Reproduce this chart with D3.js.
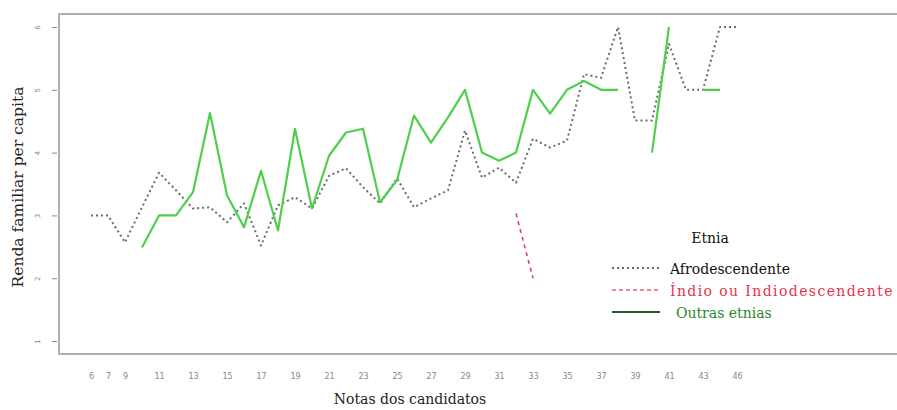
<!DOCTYPE html>
<html><head><meta charset="utf-8">
<script src="https://cdn.jsdelivr.net/npm/d3@7/dist/d3.min.js"></script>
<style>body{margin:0;background:#fff}svg{display:block}</style>
</head><body><svg id="c" width="897" height="410"></svg>
<script>
const categories = ["6","7","9","10","11","12","13","14","15","16","17","18","19","20","21","22","23","24","25","26","27","28","29","30","31","32","33","34","35","36","37","38","39","40","41","42","43","44","46"];
const tickLabels = ["6","7","9","11","13","15","17","19","21","23","25","27","29","31","33","35","37","39","41","43","46"];
const yTicks = [1,2,3,4,5,6];
const afro = [3.0,3.0,2.57,3.13,3.68,3.40,3.11,3.13,2.89,3.19,2.52,3.16,3.29,3.11,3.63,3.75,3.45,3.19,3.59,3.13,3.27,3.40,4.35,3.60,3.76,3.52,4.22,4.08,4.19,5.25,5.19,6.0,4.51,4.51,5.73,5.0,5.0,6.0,6.0];
const indio = [null,null,null,null,null,null,null,null,null,null,null,null,null,null,null,null,null,null,null,null,null,null,null,null,null,3.03,2.0,null,null,null,null,null,null,null,null,null,null,null,null];
const outras = [null,null,null,2.49,3.0,3.0,3.37,4.63,3.32,2.81,3.71,2.76,4.38,3.11,3.95,4.32,4.38,3.21,3.56,4.59,4.16,4.56,5.0,4.0,3.87,4.0,5.0,4.62,5.0,5.14,5.0,5.0,null,4.0,6.0,null,5.0,5.0,null];
const seriesNames = ["Afrodescendente","Índio ou Indiodescendente","Outras etnias"];

const svg = d3.select("#c");
const x = d3.scalePoint().domain(categories).range([91, 737]);
const y = d3.scaleLinear().domain([1,6]).range([341, 27]);
const serif = "'DejaVu Serif', serif";

// frame
svg.append("rect").attr("x",59).attr("y",14).attr("width",900).attr("height",340)
  .attr("fill","none").attr("stroke","#b0b0b0").attr("stroke-width",2);

// y axis
const yAx = svg.append("g").attr("transform","translate(52,0)")
  .call(d3.axisLeft(y).tickValues(yTicks).tickSize(-5).tickPadding(0).tickFormat(d3.format("d")));
yAx.select(".domain").remove();
yAx.selectAll(".tick line").attr("stroke","#888").attr("stroke-width",1);
yAx.selectAll(".tick text").attr("transform","translate(-12,0) rotate(-90)").attr("text-anchor","middle")
  .attr("dy","0").attr("x",0).attr("y",0)
  .attr("fill","#888").style("font-family","'DejaVu Sans', sans-serif").style("font-size","7px");

// x axis
const xAx = svg.append("g").attr("transform","translate(0,373)")
  .call(d3.axisBottom(x).tickValues(tickLabels).tickSize(0).tickPadding(0));
xAx.select(".domain").remove();
xAx.selectAll(".tick text").attr("fill","#888").style("font-family","'DejaVu Sans', sans-serif").style("font-size","8px");

// axis titles
svg.append("text").attr("x",410).attr("y",404).attr("text-anchor","middle")
  .style("font-family",serif).style("font-size","14px").attr("fill","#222").text("Notas dos candidatos");
svg.append("text").attr("transform","translate(23,187) rotate(-90)").attr("text-anchor","middle")
  .style("font-family",serif).style("font-size","15.5px").attr("fill","#222").text("Renda familiar per capita");

const line = d3.line().defined(d => d.v != null).x(d => x(d.c)).y(d => y(d.v));
function draw(vals, color, width, dash){
  svg.append("path").datum(categories.map((c,i)=>({c, v: vals[i]})))
    .attr("d", line).attr("fill","none").attr("stroke",color).attr("stroke-width",width)
    .attr("stroke-dasharray",dash).attr("stroke-linejoin","round");
}
draw(afro, "#6a6a70", 2, "2,3");
draw(indio, "#e0455a", 1.6, "4,4");
draw(outras, "#4ecf4e", 2.2, null);

// legend
const lg = svg.append("g");
lg.append("text").attr("x",710).attr("y",243).attr("text-anchor","middle")
  .style("font-family",serif).style("font-size","14px").attr("fill","#111").text("Etnia");
const items = [
  {name: seriesNames[0], stroke:"#6a6a70", dash:"2,3", w:2, tc:"#111", tx:670, ls:0},
  {name: seriesNames[1], stroke:"#f06070", dash:"4,3", w:1.6, tc:"#e8334a", tx:670, ls:1.4},
  {name: seriesNames[2], stroke:"#2d5a35", dash:null, w:2.2, tc:"#2a8a2a", tx:676, ls:0}
];
items.forEach((it,i)=>{
  const yy = 268 + i*22;
  lg.append("line").attr("x1",612).attr("x2",660).attr("y1",yy).attr("y2",yy)
    .attr("stroke",it.stroke).attr("stroke-width",it.w).attr("stroke-dasharray",it.dash);
  lg.append("text").attr("x",it.tx).attr("y",yy+6).style("letter-spacing",it.ls+"px")
    .style("font-family",serif).style("font-size","14px").attr("fill",it.tc).text(it.name);
});
</script></body></html>
